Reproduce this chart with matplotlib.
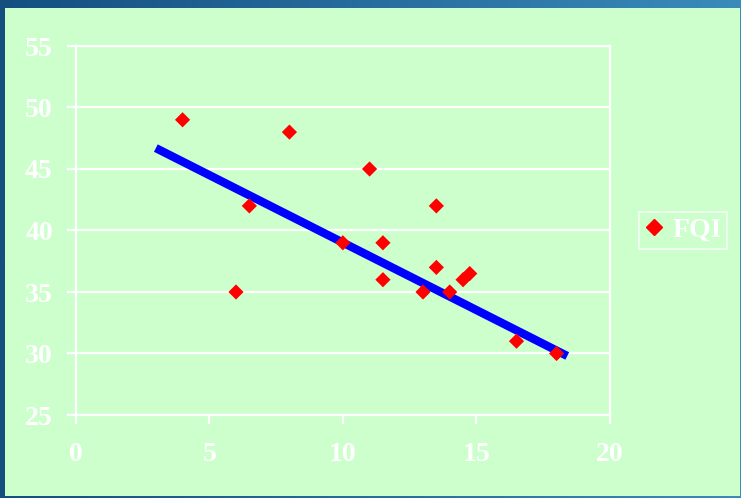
import matplotlib
matplotlib.use('Agg')
import matplotlib.pyplot as plt
from matplotlib.patches import Rectangle
from matplotlib.lines import Line2D
import numpy as np

# values
fqi_x = [4, 6, 6.5, 8, 10, 11, 11.5, 11.5, 13, 13.5, 13.5, 14, 14.5, 14.75, 16.5, 18]
fqi_y = [49, 35, 42, 48, 39, 45, 39, 36, 35, 42, 37, 35, 36, 36.5, 31, 30]
trend_x = [3.0, 18.4]
trend_y = [46.7, 29.8]
x_ticks = [0, 5, 10, 15, 20]
y_ticks = [25, 30, 35, 40, 45, 50, 55]

W, H = 741, 498
fig = plt.figure(figsize=(W / 100, H / 100), dpi=100)

# dark blue gradient frame behind everything
bg = fig.add_axes([0, 0, 1, 1], zorder=-10)
grad = np.linspace(0, 1, 256).reshape(1, -1)
cmap = matplotlib.colors.LinearSegmentedColormap.from_list('frame', ['#144f80', '#3a8bba'])
bg.imshow(grad, aspect='auto', cmap=cmap, extent=[0, 1, 0, 1])
bg.add_patch(Rectangle((5 / W, 2 / H), (740 - 5) / W, (490 - 2) / H,
                       transform=bg.transAxes, facecolor='#ccffcc', edgecolor='none'))
bg.set_xlim(0, 1)
bg.set_ylim(0, 1)
bg.axis('off')

ax = fig.add_axes([75.7 / W, 1 - 415 / H, (610 - 75.7) / W, (415 - 46) / H])
ax.set_facecolor('#ccffcc')

ax.plot(trend_x, trend_y, color='#0000ff', linewidth=6, solid_capstyle='butt', zorder=3)
ax.scatter(fqi_x, fqi_y, marker='D', s=60, color='#ff0000', edgecolors='none', zorder=4)

ax.set_xlim(0, 20)
ax.set_ylim(25, 55)
ax.set_xticks(x_ticks)
ax.set_yticks(y_ticks)
ax.grid(axis='y', color='white', linewidth=1.6)
ax.set_axisbelow(True)
for s in ax.spines.values():
    s.set_color('white')
    s.set_linewidth(1.6)

font = dict(family='Liberation Serif', weight='bold', size=20)
ax.tick_params(axis='both', colors='white', length=6.5, width=1.6, direction='out')
ax.tick_params(axis='y', pad=10)
ax.tick_params(axis='x', pad=13)
for lab in ax.get_xticklabels() + ax.get_yticklabels():
    lab.set_fontproperties(matplotlib.font_manager.FontProperties(**font))
    lab.set_color('white')

handle = Line2D([], [], marker='D', linestyle='none', color='#ff0000', markersize=8)
leg = fig.legend([handle], ['FQI'], loc='center left',
                 bbox_to_anchor=(639 / W, 1 - 230.5 / H),
                 prop=matplotlib.font_manager.FontProperties(**font),
                 frameon=True, fancybox=False, handlelength=0.7, handletextpad=0.3,
                 borderpad=0.2, borderaxespad=0)
leg.get_frame().set_facecolor('none')
leg.get_frame().set_edgecolor('white')
leg.get_frame().set_linewidth(1.2)
for t in leg.get_texts():
    t.set_color('white')

fig.savefig('out.png', dpi=100)
